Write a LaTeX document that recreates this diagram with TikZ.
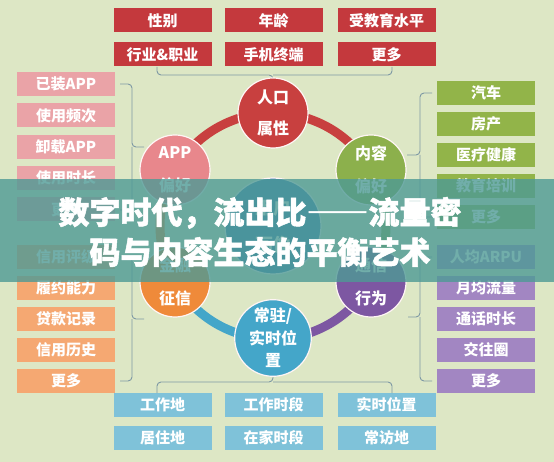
\documentclass[tikz,border=0pt]{standalone}
\usepackage{fontspec}
\setmainfont{Noto Sans CJK SC}
\newfontfamily\titlefont{Noto Sans CJK SC}[FakeBold=1.6]
\definecolor{bgc}{HTML}{DDE7C5}
\definecolor{redb}{HTML}{C4393D}
\definecolor{redc}{HTML}{C8403F}
\definecolor{pinkb}{HTML}{EAA3A7}
\definecolor{pinkc}{HTML}{E8878C}
\definecolor{orab}{HTML}{F5A872}
\definecolor{orac}{HTML}{EF8A3A}
\definecolor{greb}{HTML}{92B449}
\definecolor{grec}{HTML}{8CB04C}
\definecolor{purb}{HTML}{A286C2}
\definecolor{purc}{HTML}{7D57A2}
\definecolor{blub}{HTML}{7FC2D9}
\definecolor{bluc}{HTML}{44A6C9}
\definecolor{cenc}{HTML}{3A7FB8}
\definecolor{brcol}{HTML}{7D98A4}
\definecolor{teal}{HTML}{4E9A95}
\begin{document}
\begin{tikzpicture}[x=1pt,y=-1pt,
  box/.style={rectangle, minimum width=98pt, minimum height=24pt, inner sep=0pt, text=white,
    font=\fontsize{15}{15}\selectfont\bfseries},
  circ/.style={circle, minimum size=70pt, inner sep=0pt, draw=white!85!pink, line width=1.2pt,
    text=white, align=center, font=\fontsize{16}{17}\selectfont\bfseries},
  brc/.style={draw=brcol, line width=0.9pt, rounded corners=4pt},
  ring/.style={line width=9pt},
  ttl/.style={align=center, font=\titlefont\fontsize{31}{40}\selectfont\bfseries}]
\fill[bgc] (0,0) rectangle (554,462);
\useasboundingbox (0,0) rectangle (554,462);

% top boxes
\node[box, fill=redb] (t1) at (162.5,20.5) {性别};
\node[box, fill=redb] (t2) at (273.5,20.5) {年龄};
\node[box, fill=redb] (t3) at (386.5,20.5) {受教育水平};
\node[box, fill=redb] (t4) at (162.5,54.5) {行业\&职业};
\node[box, fill=redb] (t5) at (273.5,54.5) {手机终端};
\node[box, fill=redb] (t6) at (386.5,54.5) {更多};

% bottom boxes
\node[box, fill=blub] (b1) at (162.5,404.5) {工作地};
\node[box, fill=blub] (b2) at (273.5,404.5) {工作时段};
\node[box, fill=blub] (b3) at (386.5,404.5) {实时位置};
\node[box, fill=blub] (b4) at (162.5,437.5) {居住地};
\node[box, fill=blub] (b5) at (273.5,437.5) {在家时段};
\node[box, fill=blub] (b6) at (386.5,437.5) {常访地};

% left boxes
\node[box, fill=pinkb] (l1) at (66,84) {已装APP};
\node[box, fill=pinkb] (l2) at (66,115.5) {使用频次};
\node[box, fill=pinkb] (l3) at (66,147) {卸载APP};
\node[box, fill=pinkb] (l4) at (66,178) {使用时长};
\node[box, fill=pinkb] (l5) at (66,209.5) {更多};
\node[box, fill=orab] (l6) at (66,257) {信用评级};
\node[box, fill=orab] (l7) at (66,288) {履约能力};
\node[box, fill=orab] (l8) at (66,319) {贷款记录};
\node[box, fill=orab] (l9) at (66,350) {信用历史};
\node[box, fill=orab] (l10) at (66,381) {更多};

% right boxes
\node[box, fill=greb] (r1) at (486,93) {汽车};
\node[box, fill=greb] (r2) at (486,124) {房产};
\node[box, fill=greb] (r3) at (486,155) {医疗健康};
\node[box, fill=greb] (r4) at (486,186) {教育培训};
\node[box, fill=greb] (r5) at (486,217) {更多};
\node[box, fill=purb] (r6) at (486,257) {人均ARPU};
\node[box, fill=purb] (r7) at (486,288) {月均流量};
\node[box, fill=purb] (r8) at (486,319) {通话时长};
\node[box, fill=purb] (r9) at (486,350) {交往圈};
\node[box, fill=purb] (r10) at (486,381) {更多};

% braces
\coordinate (tipT) at (273,75);
\coordinate (tipB) at (273,382);
\coordinate (tipL1) at (132,147);
\coordinate (tipL2) at (132,319);
\coordinate (tipR1) at (420,155);
\coordinate (tipR2) at (420,317);
\draw[brc] (157,67) |- (tipT) -- ++(0,6);
\draw[brc] (392,67) |- (tipT);
\draw[brc] (157,393) |- (tipB) -- ++(0,-8);
\draw[brc] (392,393) |- (tipB);
\draw[brc] (120,84) -| (tipL1) -- ++(12,0);
\draw[brc] (120,210) -| (tipL1);
\draw[brc] (120,257) -| (tipL2) -- ++(12,0);
\draw[brc] (120,381) -| (tipL2);
\draw[brc] (432,93) -| (tipR1) -- ++(-13,0);
\draw[brc] (432,217) -| (tipR1);
\draw[brc] (432,257) -| (tipR2) -- ++(-12,0);
\draw[brc] (432,381) -| (tipR2);

% ring
\coordinate (o) at (273,226);
\draw[ring, redc] (o) ++(-90:113) arc[start angle=-90, end angle=-30, radius=113];
\draw[ring, grec] (o) ++(-30:113) arc[start angle=-30, end angle=30, radius=113];
\draw[ring, purc] (o) ++(30:113) arc[start angle=30, end angle=90, radius=113];
\draw[ring, bluc] (o) ++(90:113) arc[start angle=90, end angle=150, radius=113];
\draw[ring, orac] (o) ++(150:113) arc[start angle=150, end angle=210, radius=113];
\draw[ring, redc] (o) ++(210:113) arc[start angle=210, end angle=270, radius=113];

% circles
\node[circ, fill=cenc, minimum size=96pt, font=\fontsize{18}{19}\selectfont\bfseries] (cen) at (o) {用户\\[18pt]画像};
\node[circ, fill=redc] (c1) at (273,113) {人口\\[14pt]属性};
\node[circ, fill=grec] (c2) at (371,170) {内容\\[16pt]偏好};
\node[circ, fill=purc] (c3) at (371,282) {通信\\[16pt]行为};
\node[circ, fill=bluc] (c4) at (273,338) {常驻/\\[6pt]实时位\\[5pt]置};
\node[circ, fill=orac] (c5) at (175,282) {金融\\[16pt]征信};
\node[circ, fill=pinkc] (c6) at (175,170) {APP\\[16pt]偏好};

% banner
\fill[teal, opacity=0.8] (0,179) rectangle (554,282);
\node[ttl, text=white] (title) at (260,232)
  {数字时代，流出比{\addfontfeature{CharacterWidth=Full}——}流量密\\码与内容生态的平衡艺术};
\end{tikzpicture}
\end{document}
